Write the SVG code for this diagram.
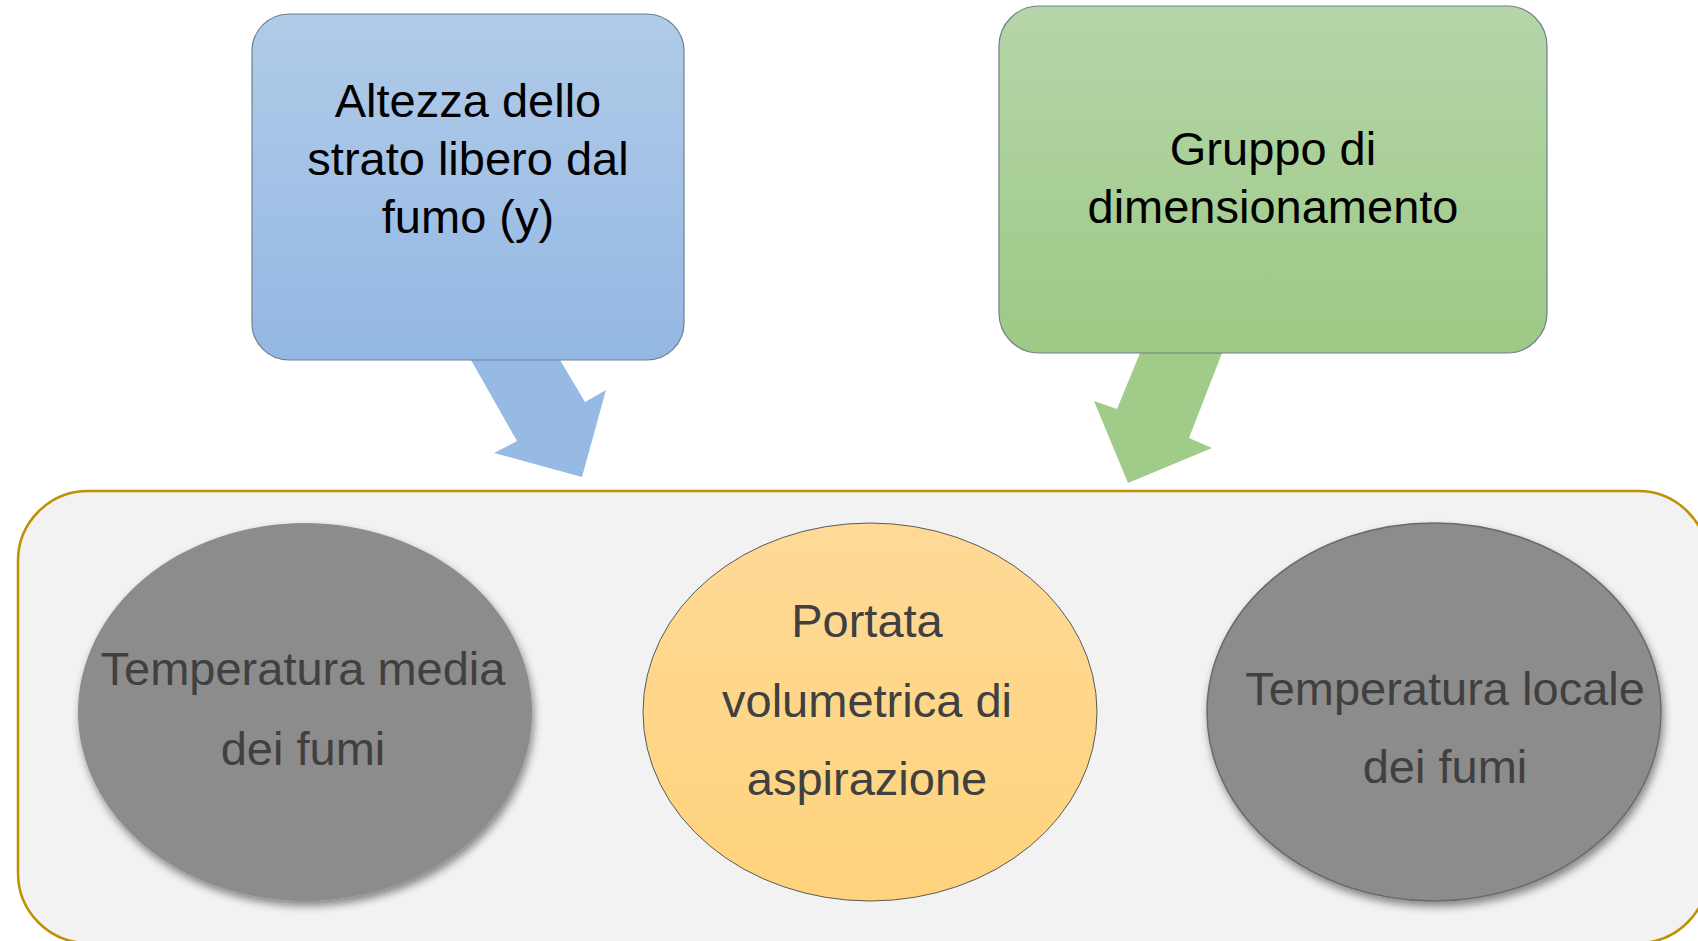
<svg xmlns="http://www.w3.org/2000/svg" width="1698" height="941" viewBox="0 0 1698 941">
<defs>
<linearGradient id="gBlue" x1="0" y1="0" x2="0" y2="1"><stop offset="0" stop-color="#B1CBE9"/><stop offset="1" stop-color="#93B8E3"/></linearGradient>
<linearGradient id="gGreen" x1="0" y1="0" x2="0" y2="1"><stop offset="0" stop-color="#B5D6A9"/><stop offset="1" stop-color="#9DC985"/></linearGradient>
<linearGradient id="gOrange" x1="0" y1="0" x2="0" y2="1"><stop offset="0" stop-color="#FEDA97"/><stop offset="1" stop-color="#FFD37C"/></linearGradient>
<filter id="shadow" x="-20%" y="-20%" width="140%" height="140%">
<feGaussianBlur in="SourceAlpha" stdDeviation="4"/>
<feOffset dx="2" dy="5" result="b"/>
<feComponentTransfer><feFuncA type="linear" slope="0.45"/></feComponentTransfer>
<feMerge><feMergeNode/><feMergeNode in="SourceGraphic"/></feMerge>
</filter>
</defs>
<style>
.top{font-family:"Liberation Sans",Arial,sans-serif;font-size:47px;fill:#000;text-anchor:middle}
.in{font-family:"Liberation Sans",Arial,sans-serif;font-size:47px;fill:#404040;text-anchor:middle}
.box{stroke:#6F7F8F;stroke-width:1.2}
</style>
<rect width="1698" height="941" fill="#FFFFFF"/>
<g id="container">
<rect x="18" y="491" width="1690" height="452" rx="70" ry="70" fill="#F2F2F2" stroke="#BF9000" stroke-width="2.5"/>
</g>
<g id="connectors">
<polygon points="471,360 560,360 585,402 606,390 582,477 494,453 517,441" fill="#97BAE4"/>
<polygon points="1140,353 1222,353 1189,438 1212,448 1128,483 1094,401 1117,409" fill="#A0CB89"/>
</g>
<g id="node-altezza">
<rect class="box" x="252" y="14" width="432" height="346" rx="37" ry="37" fill="url(#gBlue)"/>
<text class="top" x="468" y="117">Altezza dello</text>
<text class="top" x="468" y="175">strato libero dal</text>
<text class="top" x="468" y="233">fumo (y)</text>
</g>
<g id="node-gruppo">
<rect class="box" x="999" y="6" width="548" height="347" rx="40" ry="40" fill="url(#gGreen)"/>
<text class="top" x="1273" y="165">Gruppo di</text>
<text class="top" x="1273" y="223">dimensionamento</text>
</g>
<g id="node-temp-media">
<ellipse cx="305" cy="712" rx="227" ry="189" fill="#8C8C8C" filter="url(#shadow)"/>
<text class="in" x="303" y="685">Temperatura media</text>
<text class="in" x="303" y="765">dei fumi</text>
</g>
<g id="node-portata">
<ellipse cx="870" cy="712" rx="227" ry="189" fill="url(#gOrange)" stroke="#5A5A5A" stroke-width="1"/>
<text class="in" x="867" y="637">Portata</text>
<text class="in" x="867" y="717">volumetrica di</text>
<text class="in" x="867" y="795">aspirazione</text>
</g>
<g id="node-temp-locale">
<ellipse cx="1434" cy="712" rx="227" ry="189" fill="#8C8C8C" stroke="#6A6A6A" stroke-width="1.5" filter="url(#shadow)"/>
<text class="in" x="1445" y="705">Temperatura locale</text>
<text class="in" x="1445" y="783">dei fumi</text>
</g>
</svg>
